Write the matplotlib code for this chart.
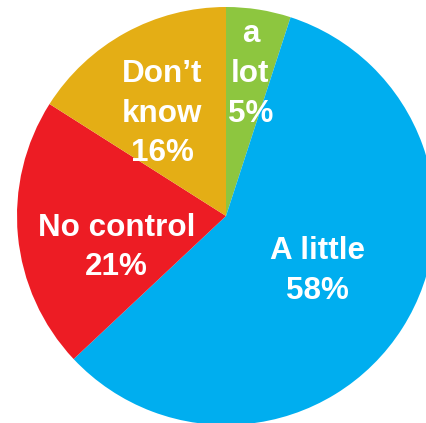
import matplotlib
matplotlib.use("Agg")
from matplotlib import pyplot as plt

# data, clockwise from the top
labels = ["a\nlot", "A little", "No control", "Don\u2019t\nknow"]
shares = [5, 58, 21, 16]
colors = ["#8DC63F", "#00AEEF", "#ED1C24", "#E4AE15"]

# where each label sits, in units of the pie radius
label_xy = [(0.117, 0.680), (0.438, -0.262), (-0.524, -0.150), (-0.306, 0.490)]

fig = plt.figure(figsize=(4.27, 4.23), dpi=100)
ax = fig.add_axes([0, 0, 1, 1])

wedges, _ = ax.pie(shares, colors=colors, startangle=90, counterclock=False,
                   radius=1, wedgeprops=dict(linewidth=0))

for lab, val, (x, y) in zip(labels, shares, label_xy):
    ax.text(x, y, "%s\n%d%%" % (lab, val), ha="center", va="center",
            color="white", fontsize=22.6, fontweight="bold",
            family="Liberation Sans", linespacing=1.42)

# pie centre at (226, 216) px, radius 209 px
s = 209.0
ax.set_xlim(-226 / s, (427 - 226) / s)
ax.set_ylim(-(423 - 216) / s, 216 / s)
ax.set_aspect("auto")
ax.axis("off")

fig.savefig("out.png", dpi=100)
